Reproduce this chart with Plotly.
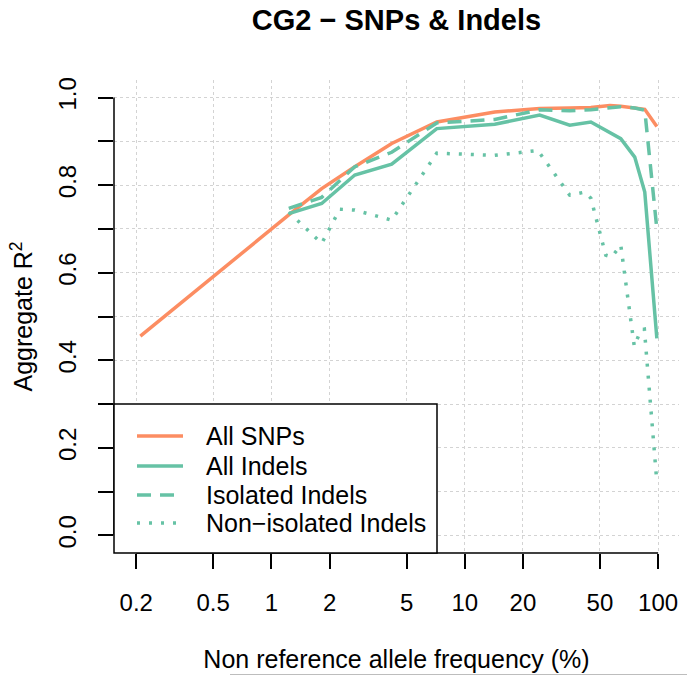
import math
import plotly.graph_objects as go

# ---------------- data ----------------
chart_title = "CG2 − SNPs & Indels"
x_title = "Non reference allele frequency (%)"
y_title = "Aggregate R<sup>2</sup>"

x_ticks = [0.2, 0.5, 1, 2, 5, 10, 20, 50, 100]
x_tick_labels = ["0.2", "0.5", "1", "2", "5", "10", "20", "50", "100"]
y_ticks = [0.0, 0.2, 0.4, 0.6, 0.8, 1.0]
y_tick_labels = ["0.0", "0.2", "0.4", "0.6", "0.8", "1.0"]
y_minor_ticks = [0.1, 0.3, 0.5, 0.7, 0.9]

snp_freq = [0.21, 0.5, 1.0, 1.23, 1.82, 2.70, 4.19, 7.17, 14.3, 24.4, 34.9, 44.9, 56.3, 64.1, 85.3, 98.5]
snp_r2 = [0.455, 0.592, 0.700, 0.732, 0.792, 0.842, 0.895, 0.944, 0.967, 0.975, 0.976, 0.977, 0.982, 0.980, 0.973, 0.934]

indel_freq = [1.23, 1.82, 2.70, 4.19, 7.17, 14.3, 24.4, 34.9, 44.9, 64.1, 75.7, 85.3, 98.5]
indel_all_r2 = [0.735, 0.758, 0.823, 0.848, 0.929, 0.939, 0.960, 0.937, 0.944, 0.906, 0.864, 0.784, 0.450]
indel_iso_r2 = [0.747, 0.772, 0.842, 0.875, 0.942, 0.950, 0.972, 0.970, 0.972, 0.979, 0.976, 0.971, 0.700]

nonisol_freq = [1.23, 1.82, 2.26, 2.70, 4.19, 7.17, 14.3, 23.9, 34.9, 41.8, 44.9, 53.6, 57.6, 64.1, 75.3, 81.4, 84.9, 98.5]
nonisol_r2 = [0.738, 0.667, 0.745, 0.743, 0.720, 0.873, 0.868, 0.879, 0.777, 0.784, 0.770, 0.640, 0.636, 0.663, 0.432, 0.469, 0.471, 0.122]

series_names = ["All SNPs", "All Indels", "Isolated Indels", "Non−isolated Indels"]

# ---------------- style ----------------
ORANGE = "#FC8D62"
GREEN = "#66C2A5"
GRID = "#D3D3D3"
FONT = "Liberation Sans, Arial, Helvetica, sans-serif"
LW = 3.5
XR = [-0.814, 2.108]
YR = [-0.04, 1.04]
series_colors = [ORANGE, GREEN, GREEN, GREEN]
series_dash = ["solid", "solid", "14px,9px", "3px,9px"]

W, H = 687, 676
ML, MR, MT, MB = 114, 8, 80, 123
PW, PH = W - ML - MR, H - MT - MB


def px_x(px):  # page pixel -> paper x
    return (px - ML) / PW


def px_y(py):  # page pixel -> paper y
    return 1 - (py - MT) / PH


def xpaper(v):
    return (math.log10(v) - XR[0]) / (XR[1] - XR[0])


fig = go.Figure()
series = [(snp_freq, snp_r2), (indel_freq, indel_all_r2), (indel_freq, indel_iso_r2), (nonisol_freq, nonisol_r2)]
for (xs, ys), name, col, dash in zip(series, series_names, series_colors, series_dash):
    fig.add_trace(go.Scatter(x=xs, y=ys, mode="lines", name=name, showlegend=False,
                             line=dict(color=col, width=LW, dash=dash)))

shapes = [
    # y axis line (first to last tick)
    dict(type="line", xref="paper", yref="y", x0=0, x1=0, y0=y_ticks[0], y1=y_ticks[-1],
         line=dict(color="black", width=1.5)),
    # x axis line (first to last tick)
    dict(type="line", xref="paper", yref="paper", x0=xpaper(x_ticks[0]), x1=xpaper(x_ticks[-1]),
         y0=0, y1=0, line=dict(color="black", width=1.5)),
    # legend box
    dict(type="rect", xref="paper", yref="paper", x0=0, x1=px_x(437), y0=0, y1=px_y(404),
         fillcolor="white", line=dict(color="black", width=1.5), layer="above"),
    # faint rule at the bottom edge of the reference image
    dict(type="line", xref="paper", yref="paper", x0=px_x(230), x1=px_x(687),
         y0=px_y(674.5), y1=px_y(674.5), line=dict(color="#BDBDBD", width=1)),
]
annotations = []
legend_rows = [436, 466, 495, 523]
for name, col, dash, row in zip(series_names, series_colors, series_dash, legend_rows):
    shapes.append(dict(type="line", xref="paper", yref="paper", x0=px_x(137), x1=px_x(183),
                       y0=px_y(row), y1=px_y(row), layer="above",
                       line=dict(color=col, width=LW, dash=dash)))
    annotations.append(dict(text=name, xref="paper", yref="paper", x=px_x(204), y=px_y(row),
                            xanchor="left", yanchor="middle", showarrow=False,
                            font=dict(size=25, color="black")))

tick_style = dict(ticks="outside", ticklen=15, tickwidth=1.5, tickcolor="black")
grid_style = dict(showgrid=True, gridcolor=GRID, griddash="dot", gridwidth=1)

fig.update_layout(
    width=W, height=H,
    margin=dict(l=ML, r=MR, t=MT, b=MB, autoexpand=False),
    paper_bgcolor="white", plot_bgcolor="white",
    font=dict(family=FONT, size=24, color="black"),
    showlegend=False,
    title=dict(text=chart_title, x=0.5, xref="paper", xanchor="center",
               y=1 - 20 / H, yanchor="middle", yref="container",
               font=dict(size=29, weight="bold", color="black")),
    xaxis=dict(type="log", range=XR, tickvals=x_ticks, ticktext=x_tick_labels,
               showline=False, zeroline=False, automargin=False,
               ticklabelstandoff=13, **tick_style, **grid_style,
               title=dict(text=x_title, standoff=35, font=dict(size=25))),
    yaxis=dict(range=YR, tickvals=y_ticks, ticktext=y_tick_labels, tickangle=-90,
               showline=False, zeroline=False, automargin=False,
               ticklabelstandoff=12, **tick_style, **grid_style,
               minor=dict(tickvals=y_minor_ticks, **tick_style, **grid_style),
               title=dict(text=y_title, standoff=14, font=dict(size=25))),
    shapes=shapes,
    annotations=annotations,
)

fig.write_html("out.html", config={"displayModeBar": False},
               post_script="document.body.style.margin='0px';")
